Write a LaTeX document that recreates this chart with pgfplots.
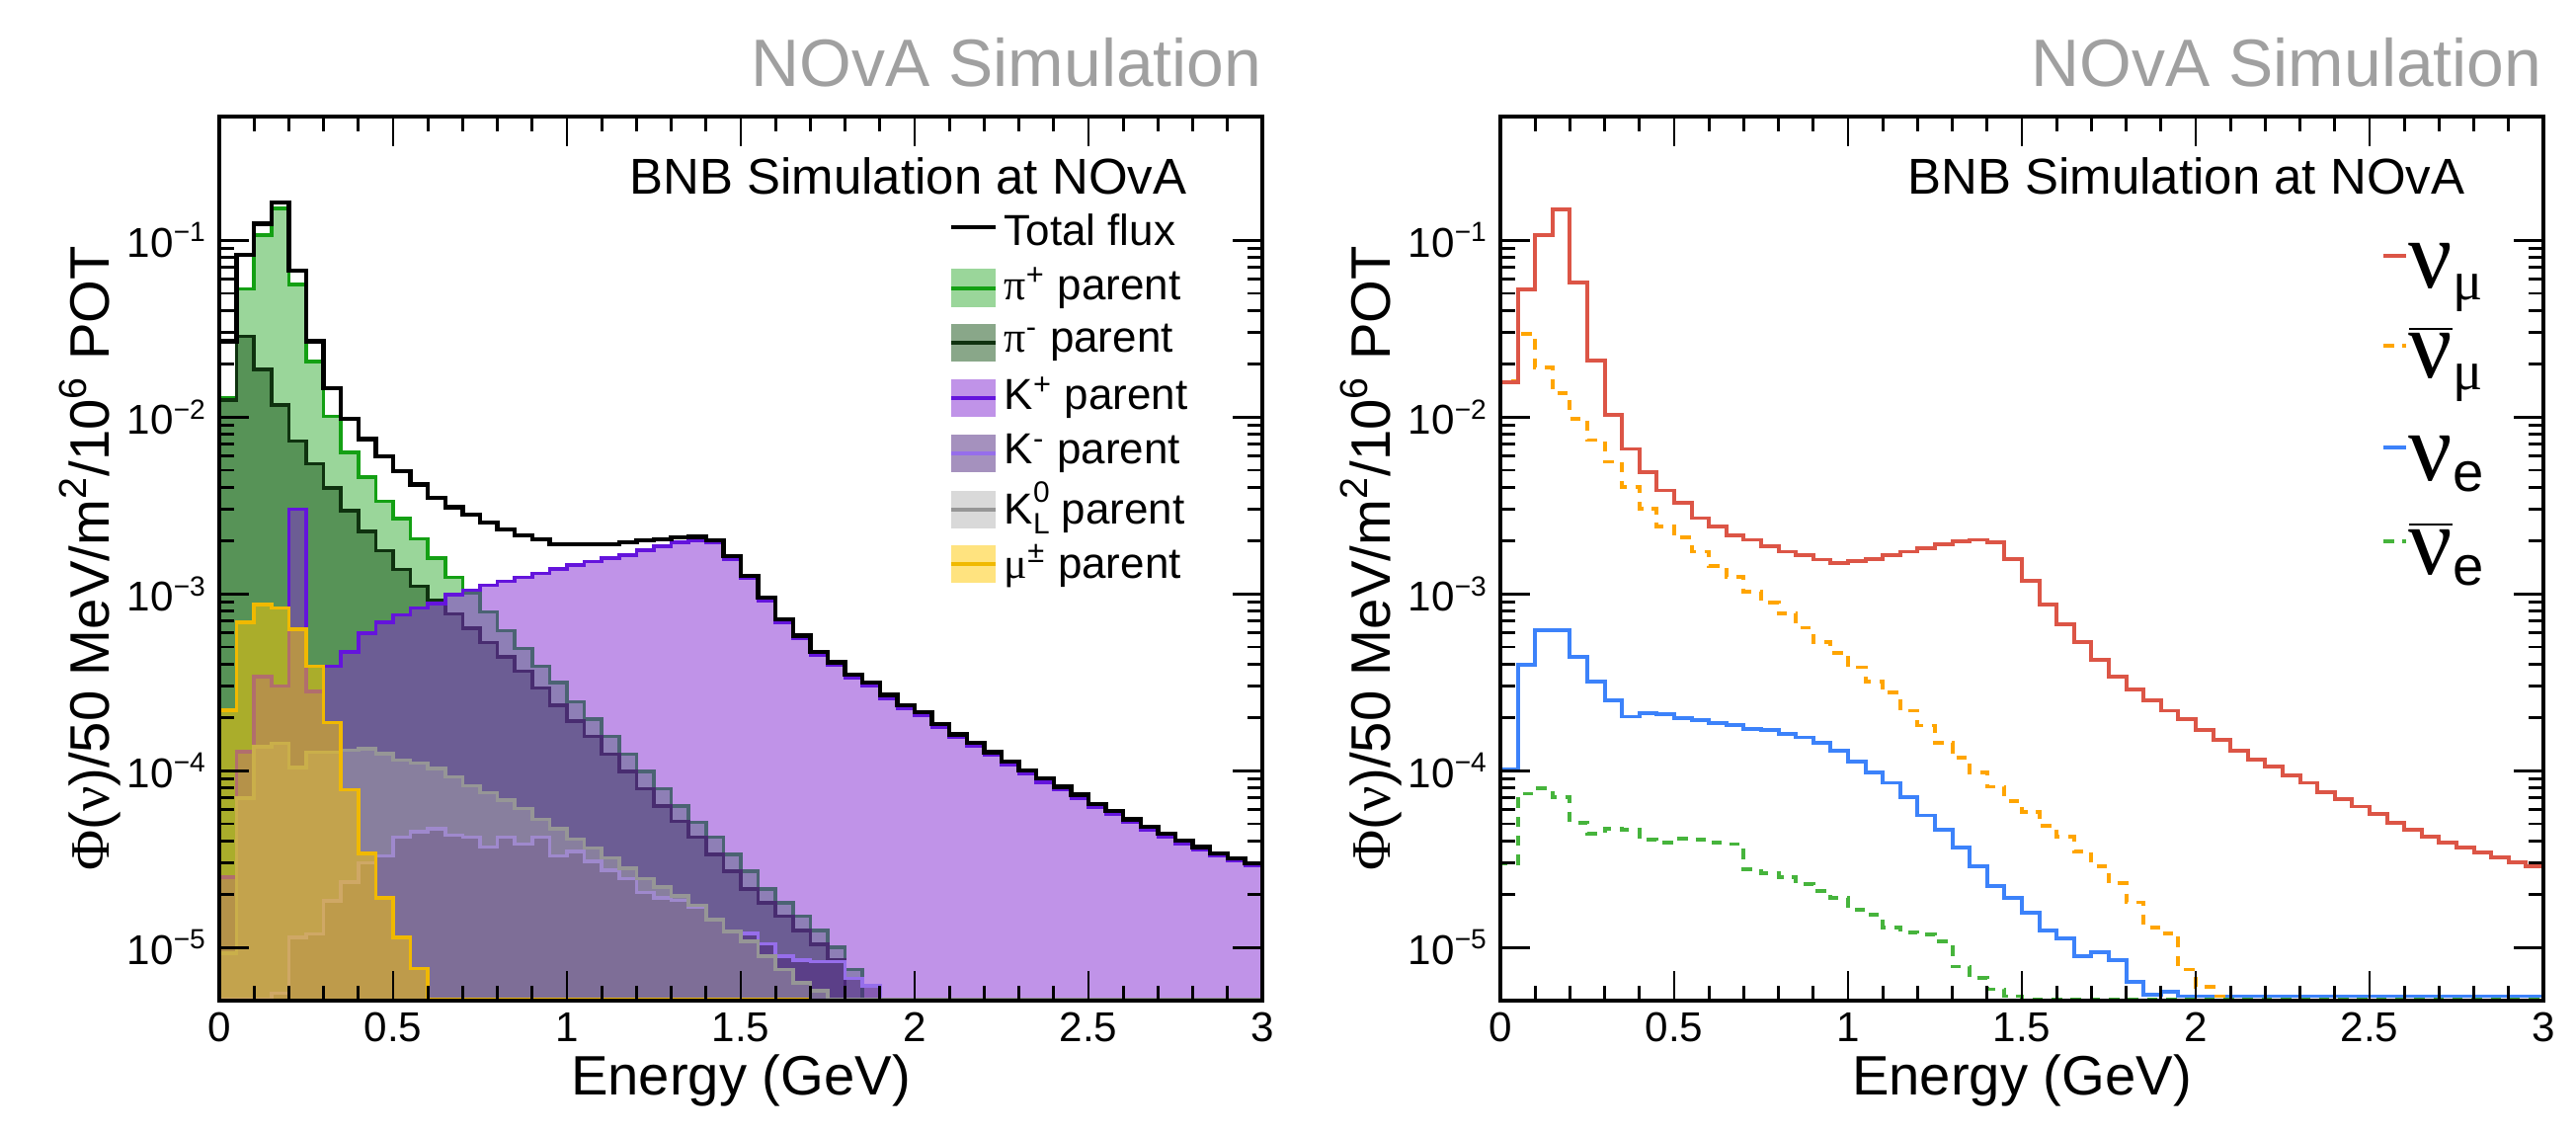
\documentclass[border=0pt]{standalone}
\usepackage{fontspec}
\setmainfont{Liberation Sans}
\newfontfamily\greek{Liberation Serif}
\usepackage{pgfplots}
\usepackage{pgfplotstable}
\pgfplotsset{compat=1.18}

\definecolor{pipl}{RGB}{20,160,20}
\definecolor{pipf}{RGB}{30,165,30}
\definecolor{piml}{RGB}{15,50,15}
\definecolor{pimf}{RGB}{20,80,20}
\definecolor{kpl}{RGB}{100,20,220}
\definecolor{kpf}{RGB}{130,40,210}
\definecolor{kml}{RGB}{150,110,235}
\definecolor{kmf}{RGB}{75,35,125}
\definecolor{k0l}{RGB}{150,150,150}
\definecolor{k0f}{RGB}{170,170,170}
\definecolor{mul}{RGB}{240,185,0}
\definecolor{muf}{RGB}{255,200,0}
\definecolor{numu}{RGB}{220,85,70}
\definecolor{numubar}{RGB}{255,165,0}
\definecolor{nue}{RGB}{60,130,250}
\definecolor{nuebar}{RGB}{70,180,60}
\definecolor{novagray}{RGB}{160,160,160}

% flux by parent, 50 MeV bins (left edge); first row starts the outline at the bottom
\pgfplotstableread{
x tot pip pim kp km k0 mu
0.00 1e-8 1e-8 1e-8 1e-8 1e-8 1e-8 1e-8
0.00 0.0268 0.0129 0.0125 2.5e-5 5.1e-6 9.3e-6 2.2e-4
0.05 0.0828 0.053 0.0286 1.28e-4 5.1e-6 7.0e-5 6.9e-4
0.10 0.124 0.107 0.0186 3.4e-4 5.1e-6 1.36e-4 8.7e-4
0.15 0.163 0.151 0.0117 3.0e-4 5.5e-6 1.43e-4 8.3e-4
0.20 0.067 0.056 0.0073 3.0e-3 1.14e-5 1.04e-4 6.3e-4
0.25 0.0268 0.0206 0.00544 2.8e-4 1.19e-5 1.27e-4 3.9e-4
0.30 0.0146 0.0101 0.00396 3.9e-4 1.83e-5 1.27e-4 1.87e-4
0.35 0.0098 0.0063 0.00295 4.7e-4 2.34e-5 1.30e-4 7.8e-5
0.40 0.0075 0.00458 0.00225 6.0e-4 3.0e-5 1.33e-4 3.4e-5
0.45 0.0060 0.00333 0.00175 6.9e-4 3.29e-5 1.25e-4 1.9e-5
0.50 0.00493 0.00267 0.00137 7.6e-4 4.2e-5 1.15e-4 1.14e-5
0.55 0.00415 0.00204 0.0011 8.3e-4 4.5e-5 1.10e-4 7.6e-6
0.60 0.0035 0.00159 0.00092 8.8e-4 4.7e-5 1.03e-4 5.1e-6
0.65 0.00309 0.00124 0.00077 9.9e-4 4.3e-5 9.2e-5 5.1e-6
0.70 0.0028 0.00101 0.00064 1.05e-3 4.2e-5 8.2e-5 5.1e-6
0.75 0.00254 0.00079 0.00053 1.12e-3 3.7e-5 7.5e-5 5.1e-6
0.80 0.0023 0.00062 0.00044 1.18e-3 4.2e-5 6.8e-5 5.1e-6
0.85 0.00214 0.00049 0.000365 1.24e-3 3.84e-5 6.1e-5 5.1e-6
0.90 0.00204 0.00039 0.000293 1.30e-3 4.2e-5 5.3e-5 5.1e-6
0.95 0.00191 0.000314 0.000234 1.38e-3 3.3e-5 4.7e-5 5.1e-6
1.00 0.0019 0.000245 0.000191 1.45e-3 3.5e-5 4.1e-5 5.1e-6
1.05 0.0019 0.000195 0.000156 1.52e-3 3.07e-5 3.66e-5 5.1e-6
1.10 0.00191 0.000156 0.000124 1.59e-3 2.74e-5 3.2e-5 5.1e-6
1.15 0.00196 0.000124 9.9e-5 1.65e-3 2.45e-5 2.8e-5 5.1e-6
1.20 0.0020 9.9e-5 7.9e-5 1.76e-3 2.04e-5 2.45e-5 5.1e-6
1.25 0.00204 7.9e-5 6.3e-5 1.86e-3 1.9e-5 2.2e-5 5.1e-6
1.30 0.00208 6.3e-5 5.15e-5 1.95e-3 1.85e-5 1.95e-5 5.1e-6
1.35 0.0021 5.1e-5 4.2e-5 2.0e-3 1.7e-5 1.73e-5 5.1e-6
1.40 0.0020 4.2e-5 3.35e-5 1.95e-3 1.44e-5 1.44e-5 5.1e-6
1.45 0.00163 3.35e-5 2.7e-5 1.57e-3 1.22e-5 1.23e-5 5.1e-6
1.50 0.00126 2.7e-5 2.14e-5 1.22e-3 1.2e-5 1.08e-5 5.1e-6
1.55 0.00095 2.14e-5 1.79e-5 9.1e-4 1.05e-5 8.9e-6 5.1e-6
1.60 0.00072 1.79e-5 1.5e-5 6.9e-4 8.9e-6 7.5e-6 5.1e-6
1.65 0.00058 1.5e-5 1.25e-5 5.6e-4 8.5e-6 6.3e-6 5.1e-6
1.70 0.00047 1.25e-5 1.04e-5 4.5e-4 8.3e-6 5.7e-6 1e-8
1.75 0.00041 1.0e-5 8.5e-6 3.95e-4 8.3e-6 5.1e-6 1e-8
1.80 0.00035 7.5e-6 1e-8 3.35e-4 6.7e-6 5.1e-6 1e-8
1.85 0.000314 1e-8 1e-8 3.0e-4 6.05e-6 5.1e-6 1e-8
1.90 0.000268 1e-8 1e-8 2.57e-4 1e-8 5.1e-6 1e-8
1.95 0.000234 1e-8 1e-8 2.25e-4 1e-8 5.1e-6 1e-8
2.00 0.000214 1e-8 1e-8 2.06e-4 1e-8 5.1e-6 1e-8
2.05 0.000183 1e-8 1e-8 1.76e-4 1e-8 5.1e-6 1e-8
2.10 0.00016 1e-8 1e-8 1.54e-4 1e-8 5.1e-6 1e-8
2.15 0.000143 1e-8 1e-8 1.37e-4 1e-8 5.1e-6 1e-8
2.20 0.000127 1e-8 1e-8 1.22e-4 1e-8 5.1e-6 1e-8
2.25 0.000113 1e-8 1e-8 1.08e-4 1e-8 5.1e-6 1e-8
2.30 0.0001 1e-8 1e-8 9.6e-5 1e-8 5.1e-6 1e-8
2.35 9.0e-5 1e-8 1e-8 8.6e-5 1e-8 5.1e-6 1e-8
2.40 8.1e-5 1e-8 1e-8 7.8e-5 1e-8 5.1e-6 1e-8
2.45 7.3e-5 1e-8 1e-8 7.0e-5 1e-8 5.1e-6 1e-8
2.50 6.5e-5 1e-8 1e-8 6.2e-5 1e-8 5.1e-6 1e-8
2.55 5.9e-5 1e-8 1e-8 5.7e-5 1e-8 5.1e-6 1e-8
2.60 5.3e-5 1e-8 1e-8 5.1e-5 1e-8 5.1e-6 1e-8
2.65 4.8e-5 1e-8 1e-8 4.6e-5 1e-8 5.1e-6 1e-8
2.70 4.4e-5 1e-8 1e-8 4.2e-5 1e-8 5.1e-6 1e-8
2.75 4.0e-5 1e-8 1e-8 3.85e-5 1e-8 5.1e-6 1e-8
2.80 3.7e-5 1e-8 1e-8 3.55e-5 1e-8 5.1e-6 1e-8
2.85 3.4e-5 1e-8 1e-8 3.3e-5 1e-8 5.1e-6 1e-8
2.90 3.2e-5 1e-8 1e-8 3.1e-5 1e-8 5.1e-6 1e-8
2.95 3.0e-5 1e-8 1e-8 2.9e-5 1e-8 5.1e-6 1e-8
3.00 3.0e-5 1e-8 1e-8 2.9e-5 1e-8 5.1e-6 1e-8
}\parenttab

% flux by flavour
\pgfplotstableread{
x numu numubar nue nuebar
0.00 1e-8 1e-8 1e-8 1e-8
0.00 0.0158 0.016 1.02e-4 3.0e-5
0.05 0.0525 0.0295 3.97e-4 7.4e-5
0.10 0.107 0.019 6.2e-4 7.97e-5
0.15 0.150 0.0136 6.25e-4 7.07e-5
0.20 0.0574 0.0098 4.41e-4 5.08e-5
0.25 0.0208 0.0074 3.18e-4 4.42e-5
0.30 0.0103 0.00558 2.51e-4 4.71e-5
0.35 0.0066 0.00402 2.02e-4 4.63e-5
0.40 0.00485 0.00303 2.12e-4 4.09e-5
0.45 0.00384 0.00240 2.08e-4 3.91e-5
0.50 0.00327 0.00208 1.99e-4 4.13e-5
0.55 0.00268 0.00173 1.93e-4 4.09e-5
0.60 0.00240 0.00143 1.86e-4 3.91e-5
0.65 0.00214 0.00124 1.81e-4 3.84e-5
0.70 0.00202 0.00103 1.72e-4 2.76e-5
0.75 0.00186 0.000893 1.69e-4 2.63e-5
0.80 0.00173 0.000776 1.62e-4 2.51e-5
0.85 0.00165 0.000643 1.54e-4 2.29e-5
0.90 0.00156 0.000533 1.43e-4 2.08e-5
0.95 0.00150 0.000463 1.30e-4 1.90e-5
1.00 0.00153 0.000384 1.13e-4 1.64e-5
1.05 0.00157 0.000318 9.81e-5 1.53e-5
1.10 0.00165 0.000276 8.53e-5 1.30e-5
1.15 0.00173 0.000218 7.07e-5 1.22e-5
1.20 0.00181 0.00018 5.58e-5 1.18e-5
1.25 0.00190 0.000143 4.63e-5 1.08e-5
1.30 0.00199 0.000118 3.66e-5 7.8e-6
1.35 0.00202 9.8e-5 2.89e-5 6.7e-6
1.40 0.00195 8.1e-5 2.22e-5 5.8e-6
1.45 0.00157 6.75e-5 1.90e-5 5.3e-6
1.50 0.00118 5.85e-5 1.57e-5 5.1e-6
1.55 0.000869 4.85e-5 1.24e-5 5.1e-6
1.60 0.000674 4.21e-5 1.13e-5 5.1e-6
1.65 0.000533 3.49e-5 8.9e-6 5.1e-6
1.70 0.000421 2.89e-5 9.4e-6 5.1e-6
1.75 0.000339 2.3e-5 8.5e-6 5.1e-6
1.80 0.000289 1.8e-5 6.4e-6 5.1e-6
1.85 0.000251 1.3e-5 5.4e-6 5.1e-6
1.90 0.000218 1.2e-5 5.6e-6 5.1e-6
1.95 0.000195 7.5e-6 5.3e-6 5.1e-6
2.00 0.000169 6.0e-6 5.3e-6 5.1e-6
2.05 0.00015 5.3e-6 5.3e-6 5.1e-6
2.10 0.00013 1e-8 5.3e-6 5.1e-6
2.15 0.000116 1e-8 5.3e-6 5.1e-6
2.20 0.000106 1e-8 5.3e-6 5.1e-6
2.25 9.36e-5 1e-8 5.3e-6 5.1e-6
2.30 8.53e-5 1e-8 5.3e-6 5.1e-6
2.35 7.55e-5 1e-8 5.3e-6 5.1e-6
2.40 6.87e-5 1e-8 5.3e-6 5.1e-6
2.45 6.26e-5 1e-8 5.3e-6 5.1e-6
2.50 5.69e-5 1e-8 5.3e-6 5.1e-6
2.55 5.08e-5 1e-8 5.3e-6 5.1e-6
2.60 4.63e-5 1e-8 5.3e-6 5.1e-6
2.65 4.21e-5 1e-8 5.3e-6 5.1e-6
2.70 3.91e-5 1e-8 5.3e-6 5.1e-6
2.75 3.66e-5 1e-8 5.3e-6 5.1e-6
2.80 3.43e-5 1e-8 5.3e-6 5.1e-6
2.85 3.24e-5 1e-8 5.3e-6 5.1e-6
2.90 3.03e-5 1e-8 5.3e-6 5.1e-6
2.95 2.89e-5 1e-8 5.3e-6 5.1e-6
3.00 2.89e-5 1e-8 5.3e-6 5.1e-6
}\flavtab

\begin{document}
\begin{tikzpicture}
\useasboundingbox (0,0) rectangle (26.08,11.45);

% left: flux by parent meson
\begin{axis}[
    at={(2.22cm,1.32cm)}, anchor=south west,
    scale only axis, width=10.56cm, height=8.95cm,
    xmin=0, xmax=3, ymode=log, ymin=5e-6, ymax=0.5,
    log origin=infty,
    axis on top,
    axis line style={line width=1.4pt},
    tick style={black, line width=0.8pt},
    major tick length=0.3cm, minor tick length=0.15cm,
    xtick={0,0.5,1,1.5,2,2.5,3}, xticklabels={0,0.5,1,1.5,2,2.5,3},
    minor x tick num=4,
    ytick={1e-5,1e-4,1e-3,1e-2,1e-1},
    yticklabels={10\textsuperscript{−5},10\textsuperscript{−4},10\textsuperscript{−3},10\textsuperscript{−2},10\textsuperscript{−1}},
    tick label style={font=\fontsize{12}{14}\selectfont},
    xlabel={Energy (GeV)},
    ylabel={{\greek Φ}({\greek ν})/50 MeV/m\textsuperscript{2}/10\textsuperscript{6} POT},
    label style={font=\fontsize{16}{19}\selectfont},
    xlabel style={at={(axis description cs:0.5,-0.09)}, anchor=center},
    ylabel style={at={(axis description cs:-0.124,0.5)}, anchor=center},
]
\addplot[const plot mark left, draw=pipl, line width=1pt, fill=pipf, fill opacity=0.45] table[x=x,y=pip]{\parenttab} \closedcycle;
\addplot[const plot mark left, draw=piml, line width=1pt, fill=pimf, fill opacity=0.5] table[x=x,y=pim]{\parenttab} \closedcycle;
\addplot[const plot mark left, draw=kpl, line width=1pt, fill=kpf, fill opacity=0.5] table[x=x,y=kp]{\parenttab} \closedcycle;
\addplot[const plot mark left, draw=kml, line width=1pt, fill=kmf, fill opacity=0.5] table[x=x,y=km]{\parenttab} \closedcycle;
\addplot[const plot mark left, draw=k0l, line width=1pt, fill=k0f, fill opacity=0.45] table[x=x,y=k0]{\parenttab} \closedcycle;
\addplot[const plot mark left, draw=mul, line width=1pt, fill=muf, fill opacity=0.5] table[x=x,y=mu]{\parenttab} \closedcycle;
\addplot[const plot mark left, draw=black, line width=1.2pt] table[x=x,y=tot]{\parenttab};
\end{axis}

% right: flux by flavour
\begin{axis}[
    at={(15.19cm,1.32cm)}, anchor=south west,
    scale only axis, width=10.56cm, height=8.95cm,
    xmin=0, xmax=3, ymode=log, ymin=5e-6, ymax=0.5,
    axis on top,
    axis line style={line width=1.4pt},
    tick style={black, line width=0.8pt},
    major tick length=0.3cm, minor tick length=0.15cm,
    xtick={0,0.5,1,1.5,2,2.5,3}, xticklabels={0,0.5,1,1.5,2,2.5,3},
    minor x tick num=4,
    ytick={1e-5,1e-4,1e-3,1e-2,1e-1},
    yticklabels={10\textsuperscript{−5},10\textsuperscript{−4},10\textsuperscript{−3},10\textsuperscript{−2},10\textsuperscript{−1}},
    tick label style={font=\fontsize{12}{14}\selectfont},
    xlabel={Energy (GeV)},
    ylabel={{\greek Φ}({\greek ν})/50 MeV/m\textsuperscript{2}/10\textsuperscript{6} POT},
    label style={font=\fontsize{16}{19}\selectfont},
    xlabel style={at={(axis description cs:0.5,-0.09)}, anchor=center},
    ylabel style={at={(axis description cs:-0.124,0.5)}, anchor=center},
]
\addplot[const plot mark left, draw=nuebar, line width=1.1pt, dash pattern=on 3pt off 2.5pt] table[x=x,y=nuebar]{\flavtab};
\addplot[const plot mark left, draw=nue, line width=1.1pt] table[x=x,y=nue]{\flavtab};
\addplot[const plot mark left, draw=numubar, line width=1.1pt, dash pattern=on 3pt off 2.5pt] table[x=x,y=numubar]{\flavtab};
\addplot[const plot mark left, draw=numu, line width=1.1pt] table[x=x,y=numu]{\flavtab};
\end{axis}

% headers
\node[anchor=base east, text=novagray, font=\fontsize{19.3}{22}\selectfont, inner sep=0pt] at (12.78,10.57) {NOvA Simulation};
\node[anchor=base east, text=novagray, font=\fontsize{19.3}{22}\selectfont, inner sep=0pt] at (25.74,10.57) {NOvA Simulation};
\node[anchor=base east, font=\fontsize{14.5}{17}\selectfont, inner sep=0pt] at (12.02,9.48) {BNB Simulation at NOvA};
\node[anchor=base east, font=\fontsize{14.5}{17}\selectfont, inner sep=0pt] at (24.96,9.48) {BNB Simulation at NOvA};

% left legend
\begin{scope}[every node/.style={anchor=west, font=\fontsize{12.5}{15}\selectfont, inner sep=0pt}]
\draw[black, line width=1.2pt] (9.63,9.15) -- (10.08,9.15);
\node at (10.16,9.12) {Total flux};
\fill[pipf, opacity=0.45] (9.63,8.34) rectangle (10.08,8.73);
\draw[pipl, line width=1pt] (9.63,8.53) -- (10.08,8.53);
\node at (10.16,8.53) {{\greek π}\textsuperscript{+} parent};
\fill[pimf, opacity=0.5] (9.63,7.79) rectangle (10.08,8.17);
\draw[piml, line width=1pt] (9.63,7.98) -- (10.08,7.98);
\node at (10.16,7.98) {{\greek π}\textsuperscript{-} parent};
\fill[kpf, opacity=0.5] (9.63,7.23) rectangle (10.08,7.61);
\draw[kpl, line width=1pt] (9.63,7.42) -- (10.08,7.42);
\node at (10.16,7.42) {K\textsuperscript{+} parent};
\fill[kmf, opacity=0.5] (9.63,6.67) rectangle (10.08,7.05);
\draw[kml, line width=1pt] (9.63,6.86) -- (10.08,6.86);
\node at (10.16,6.86) {K\textsuperscript{-} parent};
\fill[k0f, opacity=0.45] (9.63,6.10) rectangle (10.08,6.48);
\draw[k0l, line width=1pt] (9.63,6.29) -- (10.08,6.29);
\node at (10.16,6.31) {K\rlap{\raisebox{0.95ex}{\fontsize{8.5}{8.5}\selectfont 0}}\raisebox{-0.4ex}{\fontsize{8.5}{8.5}\selectfont L} parent};
\fill[muf, opacity=0.5] (9.63,5.55) rectangle (10.08,5.93);
\draw[mul, line width=1pt] (9.63,5.74) -- (10.08,5.74);
\node at (10.16,5.72) {{\greek μ}\textsuperscript{±} parent};
\end{scope}

% right legend
\begin{scope}[every node/.style={anchor=base west, inner sep=0pt}]
\draw[numu, line width=1.1pt] (24.13,8.86) -- (24.36,8.86);
\node at (24.38,8.53) {\fontsize{28}{30}\selectfont\greek ν\raisebox{-0.12cm}{\fontsize{16}{18}\selectfont μ}};
\draw[numubar, line width=1.1pt, dash pattern=on 3pt off 2.5pt] (24.13,7.95) -- (24.36,7.95);
\node at (24.38,7.62) {\fontsize{28}{30}\selectfont\greek $\overline{\hbox{ν}}$\raisebox{-0.12cm}{\fontsize{16}{18}\selectfont μ}};
\draw[nue, line width=1.1pt] (24.13,6.92) -- (24.36,6.92);
\node at (24.38,6.59) {\fontsize{28}{30}\selectfont\greek ν\raisebox{-0.12cm}{\fontsize{16}{18}\selectfont\rmfamily e}};
\draw[nuebar, line width=1.1pt, dash pattern=on 3pt off 2.5pt] (24.13,5.97) -- (24.36,5.97);
\node at (24.38,5.64) {\fontsize{28}{30}\selectfont\greek $\overline{\hbox{ν}}$\raisebox{-0.12cm}{\fontsize{16}{18}\selectfont\rmfamily e}};
\end{scope}
\end{tikzpicture}
\end{document}
